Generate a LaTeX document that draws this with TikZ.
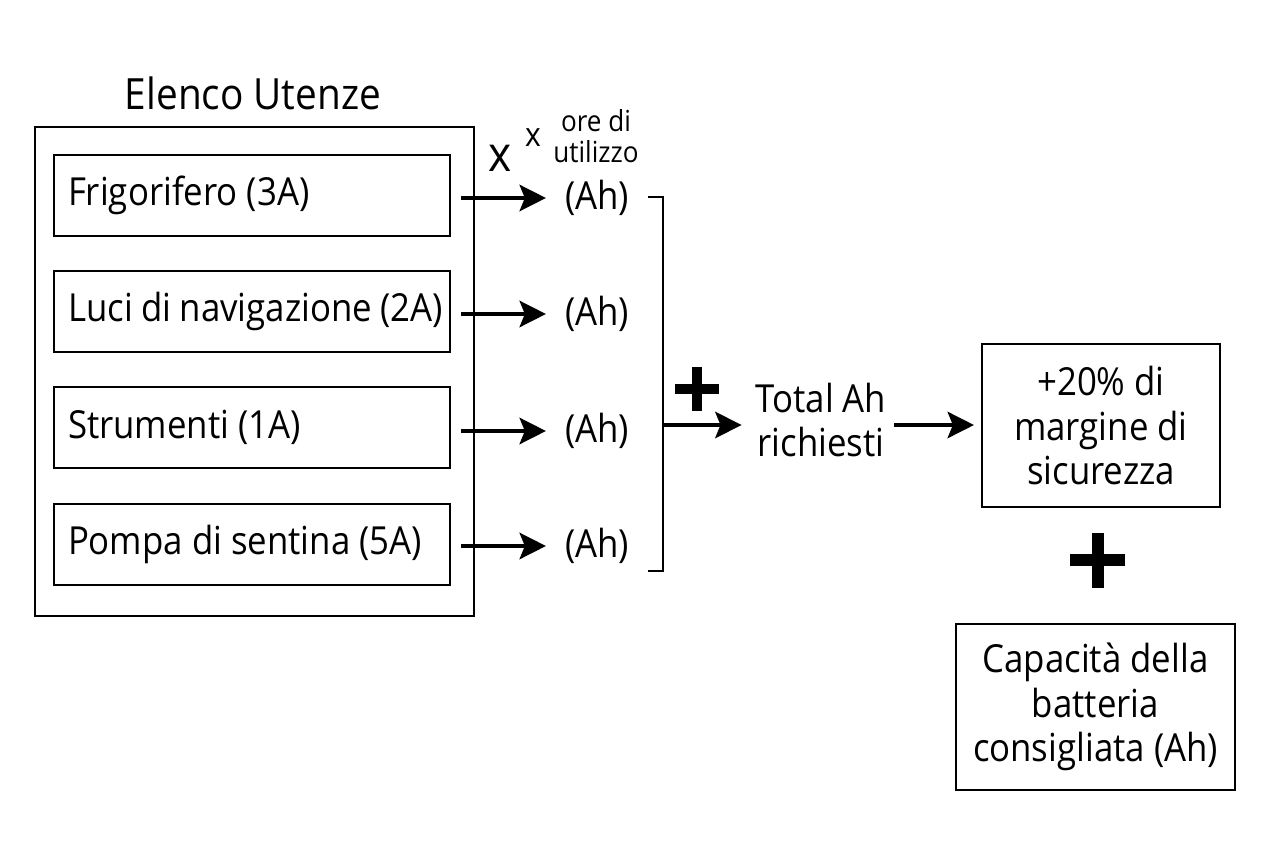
\documentclass[tikz,border=0pt]{standalone}
\usepackage{fontspec}
\setmainfont[FakeStretch=0.9]{Open Sans}
\usetikzlibrary{arrows.meta,positioning,calc}
\tikzset{
    >={Stealth[length=15pt,width=15pt,inset=3pt]},
    every picture/.style={line width=1.2pt},
    txt/.style={font=\fontsize{22}{25.5}\selectfont,align=center,inner sep=4pt},
    utenza/.style={draw,txt,align=flush left,minimum width=7.92cm,minimum height=1.62cm,
        inner xsep=0.14cm,text width=7.64cm,execute at begin node={\hspace*{0.14cm}}},
    calcbox/.style={draw,txt,minimum height=3.26cm},
    freccia/.style={->,line width=2.2pt}
}

\begin{document}
\begin{tikzpicture}[x=0.02cm,y=-0.02cm]
    \useasboundingbox (0,0) rectangle (1264,848);

    % elenco delle utenze
    \node[font=\fontsize{24.5}{28}\selectfont] (titolo) at (253,93) {Elenco Utenze};
    \draw (35,127) rectangle (474,616);
    \node[utenza] (frigo) at (252,195.5) {Frigorifero (3A)};
    \node[utenza] (luci) at (252,311.5) {Luci di navigazione (2A)};
    \node[utenza] (strum) at (252,427.5) {Strumenti (1A)};
    \node[utenza] (pompa) at (252,544.5) {Pompa di sentina (5A)};

    % ampere-ora per utenza
    \node[txt] (ah1) at (597,198) {(Ah)};
    \node[txt] (ah2) at (597,314) {(Ah)};
    \node[txt] (ah3) at (597,431) {(Ah)};
    \node[txt] (ah4) at (597,546) {(Ah)};
    \foreach \u/\a in {frigo/ah1,luci/ah2,strum/ah3,pompa/ah4}
        \draw[freccia,shorten <=10*0.02cm,shorten >=11*0.02cm] (\u.east |- \a) -- (\a.west);

    \node[font=\fontsize{28}{30}\selectfont,inner sep=0pt] (per) at (500,158) {x};
    \node[font=\fontsize{19}{20}\selectfont,inner sep=0pt] (per2) at (533,138) {x};
    \node[font=\fontsize{16.5}{18}\selectfont,align=center] (ore) at (596,136) {ore di\\utilizzo};

    % somma
    \coordinate (brT) at (663,197);
    \coordinate (brB) at (663,571);
    \coordinate (brM) at (663,425);
    \draw ($(brT)+(-15,0)$) -- (brT) -- (brB) -- ++(-15,0);
    \draw[line width=10*0.02cm] (675,389) -- (719,389) (697,367) -- (697,411);

    \node[txt] (totale) at (821,420) {Total Ah\\richiesti};
    \draw[freccia,shorten >=6*0.02cm] (brM) -- (brM -| totale.west);

    \node[calcbox,minimum width=4.76cm] (margine) at (1101,425.5) {+20\% di\\margine di\\sicurezza};
    \draw[freccia,shorten >=7*0.02cm] (totale.east |- brM) -- (brM -| margine.west);

    \draw[line width=12*0.02cm] (1070,560) -- (1125,560) (1098,533) -- (1098,588);

    \node[calcbox,minimum width=5.58cm,minimum height=3.32cm] (batteria) at (1095.5,707)
        {Capacità della\\batteria\\consigliata (Ah)};
\end{tikzpicture}
\end{document}
